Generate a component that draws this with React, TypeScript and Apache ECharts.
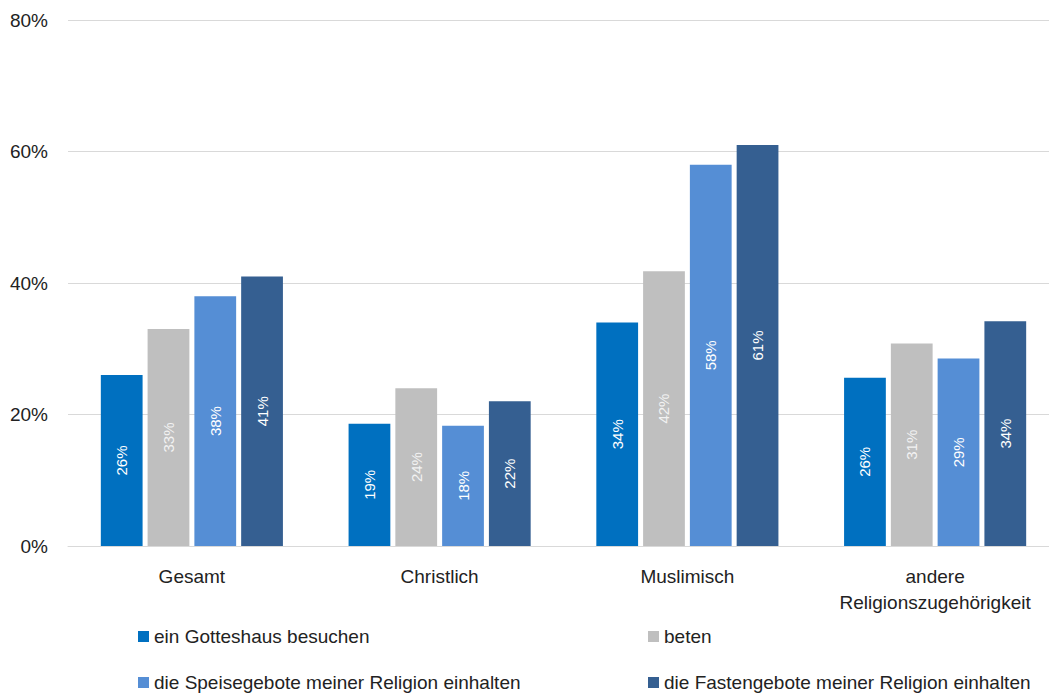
import React, { useEffect, useRef } from "react";
import * as echarts from "echarts";

const categories = ["Gesamt", "Christlich", "Muslimisch", "andere\nReligionszugehörigkeit"];
const seriesNames = [
  "ein Gotteshaus besuchen",
  "beten",
  "die Speisegebote meiner Religion einhalten",
  "die Fastengebote meiner Religion einhalten",
];
const gotteshaus = [26, 18.6, 34, 25.6];
const beten = [33, 24, 41.8, 30.8];
const speisegebote = [38, 18.3, 58, 28.5];
const fastengebote = [41, 22, 61, 34.2];
const yTicks = [0, 20, 40, 60, 80];
const colors = ["#0070C0", "#BFBFBF", "#558ED5", "#355F91"];

const FONT = "'Liberation Sans', Arial, sans-serif";

export default function App() {
  const ref = useRef<HTMLDivElement>(null);
  useEffect(() => {
    if (!ref.current) return;
    const chart = echarts.init(ref.current, null, { renderer: "svg" });
    const values = [gotteshaus, beten, speisegebote, fastengebote];
    const legendPos = [
      { left: 133, top: 623 },
      { left: 643, top: 623 },
      { left: 133, top: 669 },
      { left: 643, top: 669 },
    ];
    chart.setOption({
      animation: false,
      textStyle: { fontFamily: FONT },
      grid: { left: 68, right: 0, top: 20, bottom: 147, containLabel: false },
      legend: seriesNames.map((n, i) => ({
        data: [n],
        left: legendPos[i].left,
        top: legendPos[i].top,
        padding: [4, 5, 0, 5],
        itemWidth: 11,
        itemHeight: 11,
        icon: "rect",
        textStyle: { fontSize: 19, color: "#222", fontFamily: FONT },
      })),
      xAxis: {
        type: "category",
        data: categories,
        axisLine: { lineStyle: { color: "#D9D9D9", width: 1 } },
        axisTick: { show: false },
        axisLabel: { interval: 0, fontSize: 19, color: "#222", margin: 17, lineHeight: 26, fontFamily: FONT },
      },
      yAxis: {
        type: "value",
        min: yTicks[0],
        max: yTicks[yTicks.length - 1],
        interval: 20,
        axisLine: { show: false },
        axisTick: { show: false },
        splitLine: { lineStyle: { color: "#D9D9D9", width: 1 } },
        axisLabel: { fontSize: 19, color: "#222", margin: 20, formatter: (v: number) => v + "%", fontFamily: FONT },
      },
      series: seriesNames.map((name, i) => ({
        name,
        type: "bar",
        data: values[i],
        barGap: "12%",
        barCategoryGap: "26.5%",
        itemStyle: { color: colors[i] },
        label: {
          show: true,
          position: "inside",
          rotate: 90,
          color: i === 1 ? "#F2F2F2" : "#FFFFFF",
          fontSize: 15,
          fontFamily: FONT,
          formatter: (p: any) => Math.round(p.value) + "%",
        },
      })),
    });
    return () => chart.dispose();
  }, []);
  return (
    <div style={{ position: "fixed", left: 0, top: 0, width: 1049, height: 693, overflow: "hidden", background: "#fff" }}>
      <div ref={ref} style={{ width: 1059, height: 693 }} />
    </div>
  );
}
